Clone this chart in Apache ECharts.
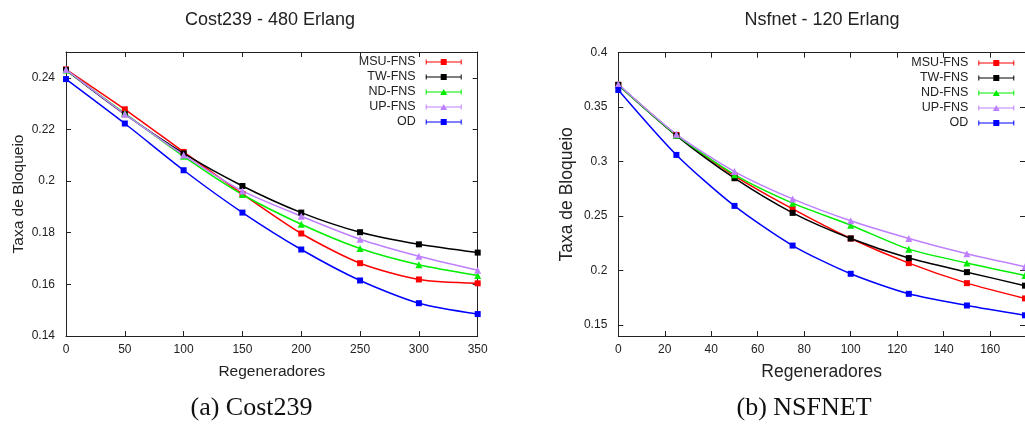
<!DOCTYPE html>
<html>
<head>
<meta charset="utf-8">
<script src="https://cdn.jsdelivr.net/npm/echarts@6/dist/echarts.min.js"></script>
<style>
html,body{margin:0;padding:0;background:#fff;}
#c{width:1025px;height:425px;}
</style>
</head>
<body>
<div id="c"></div>
<script>
// ---------- data ----------
const seriesNames = ['MSU-FNS', 'TW-FNS', 'ND-FNS', 'UP-FNS', 'OD'];

const costX = [0, 50, 100, 150, 200, 250, 300, 350];
const costMSU = [0.2433, 0.2278, 0.2113, 0.1950, 0.1797, 0.1682, 0.1619, 0.1604];
const costTW  = [0.2430, 0.2259, 0.2107, 0.1981, 0.1878, 0.1802, 0.1755, 0.1723];
const costND  = [0.2430, 0.2262, 0.2096, 0.1948, 0.1833, 0.1739, 0.1676, 0.1634];
const costUP  = [0.2432, 0.2260, 0.2101, 0.1962, 0.1864, 0.1775, 0.1709, 0.1655];
const costOD  = [0.2395, 0.2223, 0.2042, 0.1878, 0.1735, 0.1615, 0.1527, 0.1485];

const nsfX = [0, 25, 50, 75, 100, 125, 150, 175];
const nsfMSU = [0.3705, 0.3245, 0.2870, 0.2567, 0.2295, 0.2069, 0.1885, 0.1745];
const nsfTW  = [0.3705, 0.3239, 0.2848, 0.2530, 0.2295, 0.2115, 0.1986, 0.1862];
const nsfND  = [0.3705, 0.3245, 0.2881, 0.2619, 0.2417, 0.2197, 0.2069, 0.1955];
const nsfUP  = [0.3710, 0.3251, 0.2909, 0.2658, 0.2457, 0.2295, 0.2154, 0.2035];
const nsfOD  = [0.3658, 0.3062, 0.2594, 0.2230, 0.1971, 0.1787, 0.1680, 0.1590];

const costXTicks = [0, 50, 100, 150, 200, 250, 300, 350];
const costYTicks = [0.14, 0.16, 0.18, 0.20, 0.22, 0.24];
const nsfXTicks = [0, 20, 40, 60, 80, 100, 120, 140, 160];
const nsfYTicks = [0.15, 0.20, 0.25, 0.30, 0.35, 0.40];

const titles = ['Cost239 - 480 Erlang', 'Nsfnet - 120 Erlang'];
const captions = ['(a) Cost239', '(b) NSFNET'];
const xName = 'Regeneradores';
const yName = 'Taxa de Bloqueio';

// ---------- styles ----------
const colors = ['#ff0000', '#000000', '#00ee00', '#bf80ff', '#0000ff'];
const symbols = ['rect', 'rect', 'triangle', 'triangle', 'rect'];
const symSizes = [6, 6, 7, 7, 6];
const SANS = 'Liberation Sans, Arial, sans-serif';
const AX = '#222';

// legend glyphs: error-bar style line with end caps and the point marker
const BAR = 'M0 0.6 L1 0.6 L1 2.4 L35 2.4 L35 0.6 L36 0.6 L36 5.4 L35 5.4 L35 3.6 L1 3.6 L1 5.4 L0 5.4 Z ';
const ICON_SQ = 'path://' + BAR + 'M15 0 L21 0 L21 6 L15 6 Z';
const ICON_TRI = 'path://' + BAR + 'M18 0 L21.5 6 L14.5 6 Z';
const icons = [ICON_SQ, ICON_SQ, ICON_TRI, ICON_TRI, ICON_SQ];

function zip(xs, ys) { return xs.map((x, i) => [x, ys[i]]); }
const fmt = v => String(parseFloat((+v).toFixed(3)));

function axisPair(gridIndex, isX, min, max, ticks, name, nameSize, nameGap, labelMargin) {
  const base = {
    type: 'value', gridIndex, min, max,
    splitLine: { show: false },
    axisLine: { show: true, onZero: false, lineStyle: { color: AX, width: 1 } },
    axisTick: { show: true, inside: true, length: 5, customValues: ticks, lineStyle: { color: AX } },
  };
  const main = Object.assign({}, base, {
    position: isX ? 'bottom' : 'left',
    axisLabel: { show: true, customValues: ticks, formatter: fmt, color: '#222', fontFamily: SANS, fontSize: 12, margin: labelMargin },
    name: name, nameLocation: 'middle', nameGap: nameGap,
    nameTextStyle: { fontFamily: SANS, fontSize: nameSize, color: '#222' }
  });
  const mirror = Object.assign({}, base, {
    position: isX ? 'top' : 'right',
    axisLabel: { show: false }
  });
  return [main, mirror];
}

const xAxes = [
  ...axisPair(0, true, 0, 350, costXTicks, xName, 15.5, 28, 8),
  ...axisPair(1, true, 0, 175, nsfXTicks, xName, 17.5, 27, 8)
];
const yAxes = [
  ...axisPair(0, false, 0.14, 0.25, costYTicks, yName, 15.5, 39, 11),
  ...axisPair(1, false, 0.14, 0.40, nsfYTicks, yName, 17.5, 42, 11)
];

const costData = [costMSU, costTW, costND, costUP, costOD];
const nsfData = [nsfMSU, nsfTW, nsfND, nsfUP, nsfOD];

function mkSeries(dataSets, xs, axIdx) {
  return dataSets.map((ys, i) => ({
    type: 'line', name: seriesNames[i],
    xAxisIndex: axIdx, yAxisIndex: axIdx,
    data: zip(xs, ys),
    smooth: 0.25,
    symbol: symbols[i], symbolSize: symSizes[i],
    showSymbol: true,
    itemStyle: { color: colors[i] },
    lineStyle: { color: colors[i], width: 1.5 },
    emphasis: { disabled: true },
    animation: false
  }));
}

function mkLegend(right, top) {
  return {
    orient: 'vertical', align: 'right', right: right, top: top,
    padding: 0, itemGap: 0, itemWidth: 36, itemHeight: 6,
    data: seriesNames.map((n, i) => ({ name: n, icon: icons[i], itemStyle: { color: colors[i], borderWidth: 0 } })),
    textStyle: { fontFamily: SANS, fontSize: 12.5, color: '#222', lineHeight: 15, padding: [0, 5, 0, 0] },
    selectedMode: false
  };
}

const chart = echarts.init(document.getElementById('c'), null, { renderer: 'canvas' });
chart.setOption({
  backgroundColor: '#fff',
  animation: false,
  grid: [
    { left: 66, top: 52, width: 411.7, height: 284, containLabel: false },
    { left: 618.3, top: 52.7, width: 411.3, height: 283.3, containLabel: false }
  ],
  xAxis: xAxes,
  yAxis: yAxes,
  legend: [mkLegend(1025 - 461.7, 54.5), mkLegend(1025 - 1014.3, 55.5)],
  series: [...mkSeries(costData, costX, 0), ...mkSeries(nsfData, nsfX, 2)],
  graphic: [
    { type: 'text', x: 270, y: 20, style: { text: titles[0], font: '18px ' + SANS, fill: '#222', textAlign: 'center', textVerticalAlign: 'middle' } },
    { type: 'text', x: 822, y: 20, style: { text: titles[1], font: '18px ' + SANS, fill: '#222', textAlign: 'center', textVerticalAlign: 'middle' } },
    { type: 'text', x: 251.5, y: 408, style: { text: captions[0], font: '26px Liberation Serif, serif', fill: '#111', textAlign: 'center', textVerticalAlign: 'middle' } },
    { type: 'text', x: 804, y: 408, style: { text: captions[1], font: '26px Liberation Serif, serif', fill: '#111', textAlign: 'center', textVerticalAlign: 'middle' } }
  ]
});
</script>
</body>
</html>
